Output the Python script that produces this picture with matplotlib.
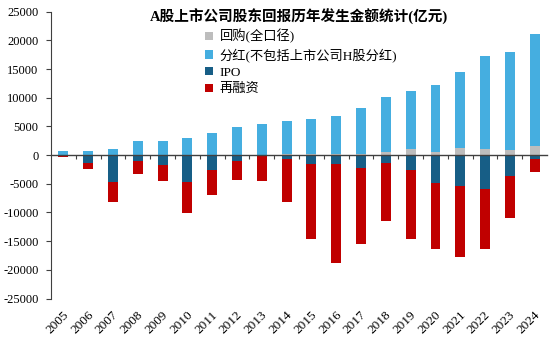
import numpy as np
import matplotlib
matplotlib.use("Agg")
import matplotlib.pyplot as plt
from matplotlib.patches import Patch
import matplotlib.transforms as mtransforms

SERIF_CJK = ["Liberation Serif", "Noto Sans CJK SC"]
plt.rcParams["font.family"] = SERIF_CJK

years = [str(y) for y in range(2005, 2025)]

# 亿元
buyback = [20, 10, 10, 40, 20, 30, 40, 60, 40, 120, 150, 130, 130,
           500, 1000, 620, 1250, 1030, 870, 1620]
dividend = [680, 710, 1140, 2460, 2480, 2970, 3790, 4760, 5300, 5860,
            6120, 6670, 8000, 9550, 10200, 11580, 13210, 16270, 17130, 19460]
ipo = [60, 1340, 4760, 1050, 1740, 4760, 2560, 1050, 0, 700,
       1570, 1570, 2320, 1390, 2560, 4820, 5400, 5920, 3600, 700]
refinancing = [290, 1050, 3490, 2200, 2790, 5400, 4410, 3310, 4470, 7430,
               13130, 17300, 13130, 10110, 12080, 11500, 12430, 10520, 7430, 2200]

labels = ["回购(全口径)", "分红(不包括上市公司H股分红)", "IPO", "再融资"]
colors = ["#BDBDBD", "#45AEE0", "#175E86", "#C00000"]
title = "A股上市公司股东回报历年发生金额统计(亿元)"
yticks = list(range(-25000, 25001, 5000))

fig = plt.figure(figsize=(5.5, 3.41), dpi=100)
ax = fig.add_axes([0.0927, 0.1246, 0.902, 0.841])

x = np.arange(len(years))
w = 0.4
bb = np.array(buyback)
dv = np.array(dividend)
ip = -np.array(ipo)
rf = -np.array(refinancing)

ax.bar(x, bb, w, color=colors[0], zorder=2)
ax.bar(x, dv, w, bottom=bb, color=colors[1], zorder=2)
ax.bar(x, ip, w, color=colors[2], zorder=2)
ax.bar(x, rf, w, bottom=ip, color=colors[3], zorder=2)

ax.set_xlim(-0.5, len(years) - 0.5)
ax.set_ylim(-25000, 25000)

ax.spines["top"].set_visible(False)
ax.spines["right"].set_visible(False)
ax.spines["bottom"].set_position(("data", 0))
ax.spines["bottom"].set_color("#404040")
ax.spines["left"].set_color("#404040")
ax.spines["bottom"].set_linewidth(1.0)
ax.spines["left"].set_linewidth(0.8)
ax.spines["bottom"].set_zorder(3)

ax.set_yticks(yticks)
ax.set_yticklabels([str(v) for v in yticks], fontsize=9, family="Liberation Serif")
ax.tick_params(axis="y", direction="out", length=3.5, width=0.8, pad=5.5,
               color="#404040")

ax.set_xticks(np.arange(len(years) - 1) + 0.5)
ax.set_xticklabels([])
ax.tick_params(axis="x", direction="out", length=3, width=0.8, color="#404040")

trans = mtransforms.blended_transform_factory(ax.transData, ax.transAxes)
for i, yr in enumerate(years):
    ax.text(i + 0.14, -0.05, yr, transform=trans, rotation=45,
            rotation_mode="anchor", ha="right", va="center",
            fontsize=9.5, family="Liberation Serif")

ax.text(0.5, 0.9826, title, transform=ax.transAxes, ha="center", va="center",
        fontsize=10.5, fontweight="bold", family=SERIF_CJK)

handles = [Patch(facecolor=c, edgecolor="none") for c in colors]
leg = ax.legend(handles, labels, loc="upper left",
                bbox_to_anchor=(205 / 550, 1 - 29 / 341),
                bbox_transform=fig.transFigure, frameon=False,
                prop={"family": SERIF_CJK, "size": 9.5},
                handlelength=0.6, handleheight=0.6, handletextpad=0.5,
                labelspacing=0.35, borderpad=0, borderaxespad=0)

fig.savefig("out.png", dpi=100)
